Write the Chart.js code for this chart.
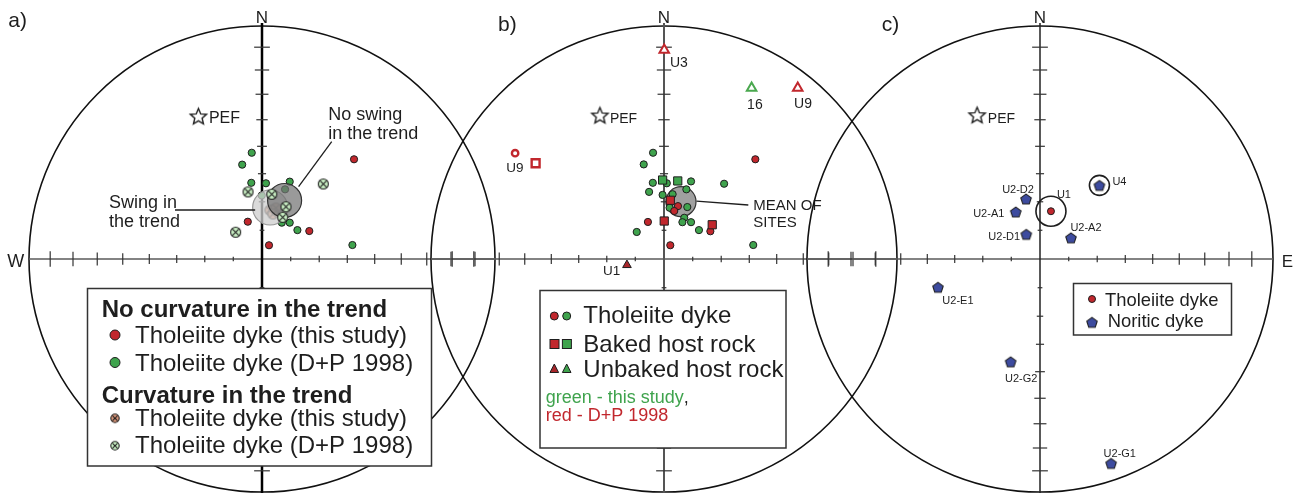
<!DOCTYPE html>
<html><head><meta charset="utf-8">
<script src="https://cdn.jsdelivr.net/npm/chart.js@4.4.1/dist/chart.umd.min.js"></script>
<style>
html,body{margin:0;padding:0;background:#fff;overflow:hidden}
#wrap{position:relative;width:1298px;height:493px;background:#fff}
#wrap canvas{position:absolute;left:0;top:0}
</style></head><body>
<div id="wrap">
<canvas id="netA" width="1298" height="493"></canvas>
<canvas id="netB" width="1298" height="493"></canvas>
<canvas id="netC" width="1298" height="493"></canvas>
</div>
<script>
// ---------------- DATA (equal-area net coordinates: x = east, y = north, 1 = primitive circle) ----------------
const tickInclinations = [80, 70, 60, 50, 40, 30, 20, 10];

// a) curvature / no curvature
const aTholThisStudy = [[0.395,0.428],[-0.061,0.160],[0.203,0.120],[0.030,0.059]];
const aTholDP1998 = [[-0.044,0.456],[-0.085,0.405],[-0.046,0.327],[0.017,0.325],[0.119,0.332],[-0.001,0.273],[0.099,0.299],[0.085,0.156],[0.119,0.156],[0.152,0.124],[0.388,0.060]];
const aCurvThisStudy = [[0.034,0.210],[0.060,0.219],[0.047,0.193]];
const aCurvDP1998 = [[-0.060,0.288],[0.263,0.322],[-0.113,0.115],[0.042,0.278],[0.103,0.224],[0.089,0.179]];
const aMeanSwing = [[0.035,0.221]];
const aMeanNoSwing = [[0.097,0.251]];
const aPEF = [[-0.273,0.614]];

// b) baked contact test
const bTholGreen = [[-0.047,0.456],[-0.087,0.406],[-0.048,0.327],[0.012,0.325],[0.116,0.333],[0.258,0.323],[-0.064,0.288],[-0.006,0.275],[0.037,0.278],[0.096,0.299],[0.100,0.223],[0.024,0.220],[0.087,0.177],[0.079,0.158],[0.116,0.158],[0.150,0.124],[-0.117,0.116],[0.383,0.060]];
const bTholRed = [[0.392,0.428],[0.060,0.227],[0.044,0.206],[-0.069,0.159],[0.199,0.119],[0.027,0.059]];
const bBakedGreen = [[-0.006,0.339],[0.059,0.335]];
const bBakedRed = [[0.027,0.252],[0.001,0.163],[0.207,0.147]];
const bUnbakedRed = [[-0.159,-0.026]];
const bUnbakedRedLabels = ['U1'];
const bOpenTriRed = [[0.001,0.897],[0.574,0.734]];
const bOpenTriRedLabels = ['U3','U9'];
const bOpenTriGreen = [[0.376,0.734]];
const bOpenTriGreenLabels = ['16'];
const bOpenCircleRed = [[-0.639,0.454]];
const bOpenCircleRedLabels = ['U9'];
const bOpenSquareRed = [[-0.551,0.411]];
const bMeanSites = [[0.073,0.246]];
const bPEF = [[-0.275,0.618]];

// c) noritic dykes
const cThol = [[0.047,0.205]];
const cTholLabels = ['U1'];
const cNoritic = [[-0.060,0.258],[-0.104,0.202],[-0.059,0.106],[0.133,0.091],[0.255,0.316],[-0.438,-0.121],[-0.126,-0.441],[0.305,-0.877]];
const cNoriticLabels = ['U2-D2','U2-A1','U2-D1','U2-A2','U4','U2-E1','U2-G2','U2-G1'];
const cPEF = [[-0.270,0.619]];

// ---------------- STYLE / LAYOUT ----------------
const W = 1298, H = 493, RAD = 233, CY = 259;
const FONT = '"Liberation Sans", Arial, Helvetica, sans-serif';
const RED = '#c1272d', GREEN = '#3fa34d', BLUE = '#3d4b9f', INK = '#1e1e1e';

function mk(w,h){const c=document.createElement('canvas');c.width=w;c.height=h;return c;}
function crossCircle(fill, r){
  const s=Math.ceil(2*r+3), c=mk(s,s), g=c.getContext('2d'), m=s/2;
  g.beginPath(); g.arc(m,m,r,0,2*Math.PI); g.fillStyle=fill; g.fill();
  g.lineWidth=1.1; g.strokeStyle=INK; g.stroke();
  const d=r*0.62; g.beginPath(); g.moveTo(m-d,m-d); g.lineTo(m+d,m+d); g.moveTo(m+d,m-d); g.lineTo(m-d,m+d); g.stroke();
  return c;
}
function pentagon(fill, r){
  const s=Math.ceil(2*r+3), c=mk(s,s), g=c.getContext('2d'), m=s/2;
  g.beginPath();
  for(let i=0;i<5;i++){const a=-Math.PI/2+i*2*Math.PI/5; const px=m+r*Math.cos(a), py=m+0.6+r*Math.sin(a); i?g.lineTo(px,py):g.moveTo(px,py);}
  g.closePath(); g.fillStyle=fill; g.fill(); g.lineWidth=1.1; g.strokeStyle=INK; g.stroke();
  return c;
}
function star(r){
  const s=Math.ceil(2*r+4), c=mk(s,s), g=c.getContext('2d'), m=s/2;
  g.beginPath();
  for(let i=0;i<10;i++){const a=-Math.PI/2+i*Math.PI/5; const rr=i%2?r*0.45:r; const px=m+rr*Math.cos(a), py=m+1+rr*Math.sin(a); i?g.lineTo(px,py):g.moveTo(px,py);}
  g.closePath(); g.fillStyle='#fff'; g.fill(); g.lineWidth=1.4; g.strokeStyle=INK; g.stroke();
  return c;
}
const imgCrossBrown = crossCircle('#d8967a', 5);
const imgCrossGreen = crossCircle('#c9efc4', 5);
const imgCrossBrownS = crossCircle('#d8967a', 4.2);
const imgCrossGreenS = crossCircle('#c9efc4', 4.2);
const imgPent = pentagon(BLUE, 5.5);
const imgStar = star(8.5);

function pts(arr){return arr.map(p=>({x:p[0],y:p[1]}));}
function txt(ctx,s,x,y,size,align,color,weight,base){
  ctx.font=(weight||'')+' '+size+'px '+FONT; ctx.textAlign=align||'left';
  ctx.fillStyle=color||INK; ctx.textBaseline=base||'alphabetic'; ctx.fillText(s,x,y);
}
function line(ctx,x1,y1,x2,y2,w,c){ctx.beginPath();ctx.moveTo(x1,y1);ctx.lineTo(x2,y2);ctx.lineWidth=w;ctx.strokeStyle=c;ctx.stroke();}
function box(ctx,x1,y1,x2,y2){ctx.fillStyle='#fff';ctx.fillRect(x1,y1,x2-x1,y2-y1);ctx.lineWidth=1.5;ctx.strokeStyle='#333';ctx.strokeRect(x1,y1,x2-x1,y2-y1);}
function dot(ctx,x,y,r,fill){ctx.beginPath();ctx.arc(x,y,r,0,2*Math.PI);ctx.fillStyle=fill;ctx.fill();ctx.lineWidth=1;ctx.strokeStyle=INK;ctx.stroke();}
function img(ctx,im,x,y){ctx.drawImage(im,x-im.width/2,y-im.height/2);}
function labelsFor(chart,ctx,arr,labels,offs,size){
  const xs=chart.scales.x, ys=chart.scales.y;
  arr.forEach((p,i)=>{const px=xs.getPixelForValue(p[0]), py=ys.getPixelForValue(p[1]);
    txt(ctx,labels[i],px+offs[i][0],py+offs[i][1],size,'center',INK,'','middle');});
}

function netPlugin(cfg){
  return {
    id:'net'+cfg.name,
    beforeDatasetsDraw(chart){
      const ctx=chart.ctx, xs=chart.scales.x, ys=chart.scales.y;
      const cx=xs.getPixelForValue(0), cy=ys.getPixelForValue(0), r=xs.getPixelForValue(1)-cx;
      ctx.save();
      ctx.beginPath(); ctx.arc(cx,cy,r,0,2*Math.PI); ctx.lineWidth=1.6; ctx.strokeStyle='#111'; ctx.stroke();
      line(ctx,cx-r,cy,cx+r,cy,1.6,'#5a5a5a');
      line(ctx,cx,cy-r-3,cx,H,cfg.vWidth,cfg.vColor);
      tickInclinations.forEach(inc=>{
        const q=Math.SQRT2*Math.sin((90-inc)/2*Math.PI/180);
        const L=1.5+7*q;
        [-q,q].forEach(v=>{
          const px=xs.getPixelForValue(v), py=ys.getPixelForValue(v);
          line(ctx,px,cy-L,px,cy+L,1.2,'#333');
          line(ctx,cx-L,py,cx+L,py,1.2,'#333');
        });
      });
      txt(ctx,'N',cx,23,17,'center');
      txt(ctx,cfg.panel,cfg.panelX,cfg.panelY,21,'left');
      if(cfg.side==='W') txt(ctx,'W',15.7,266.7,18,'center');
      if(cfg.side==='E') txt(ctx,'E',1287.3,266.7,17,'center');
      ctx.restore();
    },
    afterDatasetsDraw(chart){
      const ctx=chart.ctx; ctx.save(); cfg.after(chart,ctx); ctx.restore();
    }
  };
}

function makeNet(id,cx,datasets,cfg){
  return new Chart(document.getElementById(id),{
    type:'scatter',
    data:{datasets},
    options:{
      responsive:false, animation:false, devicePixelRatio:1, events:[],
      layout:{autoPadding:false,padding:{left:cx-RAD,right:W-(cx+RAD),top:CY-RAD,bottom:H-(CY+RAD)}},
      scales:{x:{type:'linear',min:-1,max:1,display:false},y:{type:'linear',min:-1,max:1,display:false}},
      plugins:{legend:{display:false},tooltip:{enabled:false}}
    },
    plugins:[netPlugin(cfg)]
  });
}
function ds(data,opt){return Object.assign({data:pts(data),pointRadius:3.6,borderWidth:1,borderColor:INK,pointHoverRadius:0,clip:false},opt);}

// ---------------- PANEL A ----------------
makeNet('netA',262,[
  ds(aCurvDP1998,{order:1,pointStyle:imgCrossGreen}),
  ds(aMeanNoSwing,{order:2,pointRadius:17,backgroundColor:'rgba(115,115,115,0.72)',borderColor:'#333',borderWidth:1.2}),
  ds(aMeanSwing,{order:3,pointRadius:17.5,backgroundColor:'rgba(205,205,205,0.75)',borderColor:'#999',borderWidth:1.2}),
  ds(aCurvThisStudy,{order:4,pointStyle:imgCrossBrown}),
  ds(aTholThisStudy,{order:5,backgroundColor:RED}),
  ds(aTholDP1998,{order:6,backgroundColor:GREEN}),
  ds(aPEF,{order:7,pointStyle:imgStar})
],{name:'A',vWidth:2.5,vColor:'#000',side:'W',panel:'a)',panelX:8.3,panelY:27,
  after(chart,ctx){
    const xs=chart.scales.x, ys=chart.scales.y;
    const p=(a)=>[xs.getPixelForValue(a[0][0]),ys.getPixelForValue(a[0][1])];
    const pe=p(aPEF); txt(ctx,'PEF',pe[0]+10.5,pe[1]+6.7,16,'left');
    txt(ctx,'No swing',328.3,120,18,'left'); txt(ctx,'in the trend',328.3,139,18,'left');
    const mn=p(aMeanNoSwing); line(ctx,mn[0]+14,mn[1]-14,331.7,141.7,1.3,INK);
    txt(ctx,'Swing in',109,208.3,18,'left'); txt(ctx,'the trend',109,226.7,18,'left');
    const ms=p(aMeanSwing); line(ctx,175,210,ms[0]-15,210,1.3,INK);
    box(ctx,87.5,288.5,431.5,466);
    txt(ctx,'No curvature in the trend',101.7,317.3,24,'left',INK,'bold');
    dot(ctx,115,335,5,RED); txt(ctx,'Tholeiite dyke (this study)',135,343.3,24,'left');
    dot(ctx,115,362.5,5,GREEN); txt(ctx,'Tholeiite dyke (D+P 1998)',135,370.7,24,'left');
    txt(ctx,'Curvature in the trend',101.7,402.7,24,'left',INK,'bold');
    img(ctx,imgCrossBrownS,115,418.3); txt(ctx,'Tholeiite dyke (this study)',135,425.7,24,'left');
    img(ctx,imgCrossGreenS,115,445.7); txt(ctx,'Tholeiite dyke (D+P 1998)',135,452.7,24,'left');
  }});

// ---------------- PANEL B ----------------
makeNet('netB',664,[
  ds(bOpenTriRed,{order:1,pointStyle:'triangle',pointRadius:5.5,backgroundColor:'#fff',borderColor:RED,borderWidth:2}),
  ds(bOpenTriGreen,{order:1,pointStyle:'triangle',pointRadius:5.5,backgroundColor:'#fff',borderColor:'#4aa84f',borderWidth:2}),
  ds(bOpenCircleRed,{order:1,pointRadius:3.2,backgroundColor:'#fff',borderColor:RED,borderWidth:2.4}),
  ds(bOpenSquareRed,{order:1,pointStyle:'rect',pointRadius:5.6,backgroundColor:'#fff',borderColor:RED,borderWidth:2.4}),
  ds(bUnbakedRed,{order:2,pointStyle:'triangle',pointRadius:5,backgroundColor:'#a8262a'}),
  ds(bBakedRed,{order:3,pointStyle:'rect',pointRadius:5.8,backgroundColor:RED}),
  ds(bBakedGreen,{order:4,pointStyle:'rect',pointRadius:5.8,backgroundColor:GREEN}),
  ds(bTholRed,{order:5,backgroundColor:RED}),
  ds(bTholGreen,{order:6,backgroundColor:GREEN}),
  ds(bMeanSites,{order:7,pointRadius:15,backgroundColor:'#a0a0a0',borderColor:'#333',borderWidth:1.2}),
  ds(bPEF,{order:8,pointStyle:imgStar})
],{name:'B',vWidth:2,vColor:'#555',side:'',panel:'b)',panelX:498,panelY:31,
  after(chart,ctx){
    const xs=chart.scales.x, ys=chart.scales.y;
    const p=(a)=>[xs.getPixelForValue(a[0][0]),ys.getPixelForValue(a[0][1])];
    const pe=p(bPEF); txt(ctx,'PEF',pe[0]+10,pe[1]+7.7,14,'left');
    labelsFor(chart,ctx,bOpenTriRed,bOpenTriRedLabels,[[14.7,13.3],[5.3,15.7]],14);
    labelsFor(chart,ctx,bOpenTriGreen,bOpenTriGreenLabels,[[3.3,16.7]],14);
    labelsFor(chart,ctx,bOpenCircleRed,bOpenCircleRedLabels,[[-0.3,15.5]],13.5);
    labelsFor(chart,ctx,bUnbakedRed,bUnbakedRedLabels,[[-15.3,6]],13.5);
    const m=p(bMeanSites); line(ctx,m[0]+15.5,m[1]-0.5,748.3,205,1.3,INK);
    txt(ctx,'MEAN OF',753.3,210,15,'left'); txt(ctx,'SITES',753.3,226.7,15,'left');
    box(ctx,540,290.5,786,448);
    dot(ctx,554.3,316,4,RED); dot(ctx,566.7,316,4,GREEN);
    txt(ctx,'Tholeiite dyke',583.3,323.3,24,'left');
    ctx.fillStyle=RED; ctx.fillRect(550,339.5,9,9); ctx.strokeStyle=INK; ctx.lineWidth=1; ctx.strokeRect(550,339.5,9,9);
    ctx.fillStyle=GREEN; ctx.fillRect(562.4,339.5,9,9); ctx.strokeRect(562.4,339.5,9,9);
    txt(ctx,'Baked host rock',583.3,351.7,24,'left');
    [[554.3,'#a8262a'],[566.7,GREEN]].forEach(([x,c])=>{ctx.beginPath();ctx.moveTo(x,364);ctx.lineTo(x+4.3,372.5);ctx.lineTo(x-4.3,372.5);ctx.closePath();ctx.fillStyle=c;ctx.fill();ctx.lineWidth=1;ctx.strokeStyle=INK;ctx.stroke();});
    txt(ctx,'Unbaked host rock',583.3,377.3,24,'left');
    txt(ctx,'green - this study',545.7,403,18,'left','#3fa34d');
    ctx.font='18px '+FONT; const w=ctx.measureText('green - this study').width;
    txt(ctx,',',545.7+w,403,18,'left',INK);
    txt(ctx,'red - D+P 1998',545.7,421,18,'left',RED);
  }});

// ---------------- PANEL C ----------------
makeNet('netC',1040,[
  ds(cThol,{order:1,pointRadius:3.5,backgroundColor:RED}),
  ds(cNoritic,{order:2,pointStyle:imgPent}),
  ds(cPEF,{order:3,pointStyle:imgStar})
],{name:'C',vWidth:1.5,vColor:'#222',side:'E',panel:'c)',panelX:881.7,panelY:31,
  after(chart,ctx){
    const xs=chart.scales.x, ys=chart.scales.y;
    const px=(a,i)=>[xs.getPixelForValue(a[i][0]),ys.getPixelForValue(a[i][1])];
    const pe=px(cPEF,0); txt(ctx,'PEF',pe[0]+10.7,pe[1]+8,14,'left');
    const u1=px(cThol,0); ctx.beginPath(); ctx.arc(u1[0],u1[1],15,0,2*Math.PI); ctx.lineWidth=1.6; ctx.strokeStyle=INK; ctx.stroke();
    const u4=px(cNoritic,4); ctx.beginPath(); ctx.arc(u4[0],u4[1],10,0,2*Math.PI); ctx.stroke();
    labelsFor(chart,ctx,cThol,cTholLabels,[[13,-16]],11);
    labelsFor(chart,ctx,cNoritic,cNoriticLabels,[[-8,-8.5],[-27,2],[-22,3],[15,-10],[20,-3],[20,13.5],[10.6,17.5],[8.7,-9]],11);
    box(ctx,1073.5,283.5,1231.5,335);
    dot(ctx,1092,299,3.5,RED); txt(ctx,'Tholeiite dyke',1105,305.7,18.4,'left');
    img(ctx,imgPent,1092,322.3); txt(ctx,'Noritic dyke',1107.7,327.3,18.4,'left');
  }});
</script>
</body></html>
